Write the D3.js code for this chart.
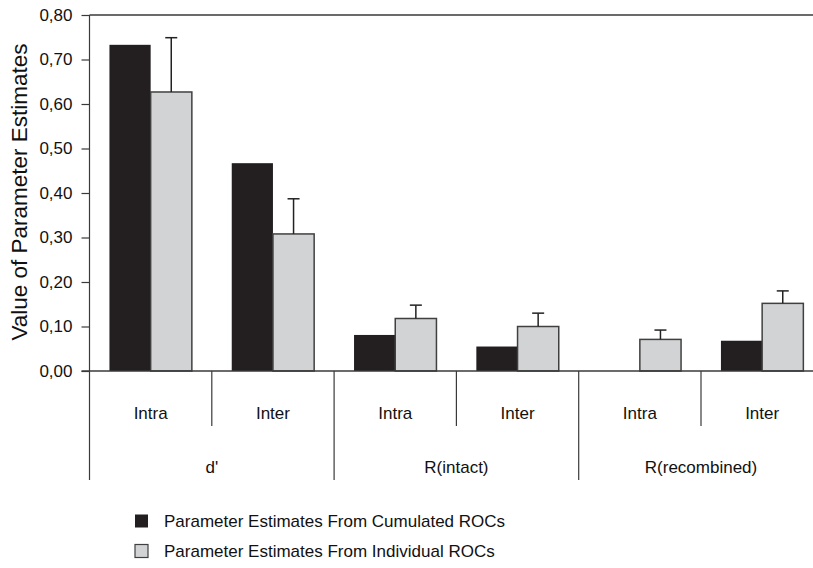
<!DOCTYPE html>
<html>
<head>
<meta charset="utf-8">
<script src="https://cdn.jsdelivr.net/npm/d3@7"></script>
<style>
  html, body { margin: 0; padding: 0; background: #fff; }
  svg { display: block; font-family: "Liberation Sans", Arial, Helvetica, sans-serif; }
</style>
</head>
<body>
<svg id="chart" width="813" height="568"></svg>
<script>
// Parameter groups and their sub-conditions
const groups = ["d'", "R(intact)", "R(recombined)"];
const conditions = ["Intra", "Inter"];
// One entry per (group, condition) pair, in drawing order
const categories = ["d'|Intra", "d'|Inter", "R(intact)|Intra", "R(intact)|Inter", "R(recombined)|Intra", "R(recombined)|Inter"];

// Series values
const cumulated = [0.733, 0.467, 0.081, 0.055, 0.0, 0.068];
const individual = [0.627, 0.308, 0.118, 0.100, 0.071, 0.152];
const individualErr = [0.122, 0.079, 0.030, 0.030, 0.021, 0.028];

const seriesNames = ["Parameter Estimates From Cumulated ROCs", "Parameter Estimates From Individual ROCs"];
const yTicks = [0, 0.1, 0.2, 0.3, 0.4, 0.5, 0.6, 0.7, 0.8];

const svg = d3.select("#chart");
const plotLeft = 89.5, plotTop = 15, plotBottom = 371;
const bandW = 122.3;
const axisColor = "#3a3a3a";
const darkFill = "#231f20", lightFill = "#d1d3d4", lightStroke = "#404040";

const y = d3.scaleLinear().domain([0, 0.8]).range([plotBottom, plotTop]);
const x0 = d3.scaleBand().domain(categories).range([plotLeft, plotLeft + bandW * categories.length]).padding(0);
const x1 = d3.scaleBand().domain(["cum", "ind"]).range([0, x0.bandwidth()]).paddingInner(0).paddingOuter(0.484);

// Y axis
const yAxis = d3.axisLeft(y).tickValues(yTicks).tickSize(8).tickPadding(9)
  .tickFormat(d => d3.format(".2f")(d).replace(".", ","));
const gy = svg.append("g").attr("transform", `translate(${plotLeft},0)`).call(yAxis);
gy.select(".domain").remove();
gy.selectAll(".tick line").attr("stroke", axisColor).attr("stroke-width", 1.2);
gy.selectAll(".tick text").attr("font-size", 17).attr("fill", "#111").attr("font-family", "Liberation Sans, Arial, sans-serif");

// Vertical axis line extends down through the category rows
svg.append("line").attr("x1", plotLeft).attr("x2", plotLeft).attr("y1", plotTop).attr("y2", 480)
  .attr("stroke", axisColor).attr("stroke-width", 1.2);
// Top frame line
svg.append("line").attr("x1", plotLeft).attr("x2", 813).attr("y1", y(0.8)).attr("y2", y(0.8))
  .attr("stroke", axisColor).attr("stroke-width", 1.5);

// Y axis title
svg.append("text")
  .attr("transform", `translate(19,192) rotate(-90)`)
  .attr("text-anchor", "middle").attr("dominant-baseline", "central")
  .attr("font-size", 22.5).attr("fill", "#111")
  .text("Value of Parameter Estimates");

// Bars
const bars = svg.append("g");
categories.forEach((c, i) => {
  const gx = x0(c);
  bars.append("rect")
    .attr("x", gx + x1("cum")).attr("width", x1.bandwidth())
    .attr("y", y(cumulated[i])).attr("height", y(0) - y(cumulated[i]))
    .attr("fill", darkFill);
  bars.append("rect")
    .attr("x", gx + x1("ind")).attr("width", x1.bandwidth())
    .attr("y", y(individual[i])).attr("height", y(0) - y(individual[i]))
    .attr("fill", lightFill).attr("stroke", lightStroke).attr("stroke-width", 1.5);
  // Upper error bar on the individual-ROC bar
  const cx = gx + x1("ind") + x1.bandwidth() / 2;
  const yTop = y(individual[i] + individualErr[i]);
  bars.append("line").attr("x1", cx).attr("x2", cx)
    .attr("y1", y(individual[i])).attr("y2", yTop)
    .attr("stroke", "#222").attr("stroke-width", 1.5);
  bars.append("line").attr("x1", cx - 6).attr("x2", cx + 6)
    .attr("y1", yTop).attr("y2", yTop)
    .attr("stroke", "#222").attr("stroke-width", 1.5);
});

// Baseline
svg.append("line").attr("x1", plotLeft - 8).attr("x2", 813).attr("y1", y(0)).attr("y2", y(0))
  .attr("stroke", axisColor).attr("stroke-width", 1.5);

// Category separators and labels
const catG = svg.append("g");
categories.forEach((c, i) => {
  const [grp, cond] = c.split("|");
  const gx = x0(c);
  catG.append("text")
    .attr("x", gx + x0.bandwidth() / 2).attr("y", 413)
    .attr("text-anchor", "middle").attr("dominant-baseline", "central")
    .attr("font-size", 17).attr("fill", "#111").text(cond);
  if (i > 0) {
    const isGroupEdge = cond === "Intra";
    catG.append("line").attr("x1", gx).attr("x2", gx)
      .attr("y1", y(0)).attr("y2", isGroupEdge ? 480 : 426)
      .attr("stroke", axisColor).attr("stroke-width", 1.2);
  }
});
groups.forEach(g => {
  const a = x0(g + "|Intra"), b = x0(g + "|Inter") + x0.bandwidth();
  catG.append("text")
    .attr("x", (a + b) / 2).attr("y", 467)
    .attr("text-anchor", "middle").attr("dominant-baseline", "central")
    .attr("font-size", 17).attr("fill", "#111").text(g);
});

// Legend
const legend = svg.append("g");
const legendFills = [darkFill, lightFill];
seriesNames.forEach((name, i) => {
  const cy = 521 + i * 30;
  legend.append("rect")
    .attr("x", 135).attr("y", cy - 6.5).attr("width", 13).attr("height", 13)
    .attr("fill", legendFills[i])
    .attr("stroke", i === 1 ? lightStroke : "none").attr("stroke-width", 1.2);
  legend.append("text")
    .attr("x", 164).attr("y", cy)
    .attr("dominant-baseline", "central")
    .attr("font-size", 17).attr("fill", "#111").text(name);
});
</script>
</body>
</html>
